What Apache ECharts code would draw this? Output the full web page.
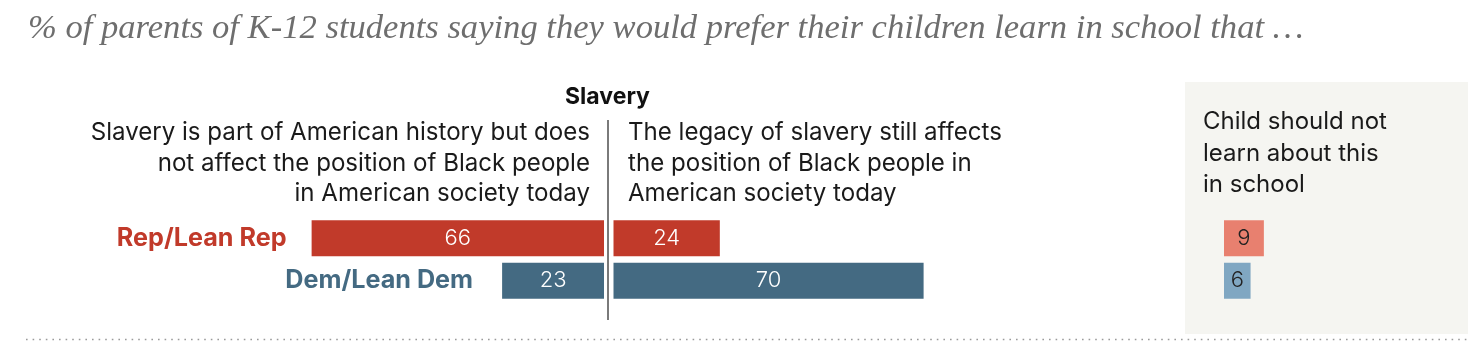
<!DOCTYPE html>
<html>
<head>
<meta charset="utf-8">
<script src="https://cdn.jsdelivr.net/npm/echarts@6/dist/echarts.min.js"></script>
<style>
html,body{margin:0;padding:0;background:#fff;}
#c{width:1468px;height:342px;}
</style>
</head>
<body>
<div id="c"></div>
<script>
// ---- data ----
const groups = ['Rep/Lean Rep', 'Dem/Lean Dem'];
const notAffect = [66, 23];
const stillAffects = [24, 70];
const shouldNotLearn = [9, 6];
const titleText = '% of parents of K-12 students saying they would prefer their children learn in school that \u2026';
const topicLabel = 'Slavery';
const leftHeader = ['Slavery is part of American history but does', 'not affect the position of Black people', 'in American society today'];
const rightHeader = ['The legacy of slavery still affects', 'the position of Black people in', 'American society today'];
const panelHeader = ['Child should not', 'learn about this', 'in school'];

// ---- styles ----
const dark = ['#c13a2a', '#446a82'];
const light = ['#e8806f', '#80a7c2'];
const SANS = 'Inter, "Open Sans", sans-serif';
const SERIF = '"Liberation Serif", "DejaVu Serif", Georgia, serif';

const cv = document.createElement('canvas').getContext('2d');
function fit(text, style, weight, family, target) {
  cv.font = style + ' ' + weight + ' 100px ' + family;
  return Math.round(1000 * target / cv.measureText(text).width) / 10;
}
const titleSize = fit(titleText, 'italic', 'normal', SERIF, 1278);
const headSize = fit(leftHeader[0], 'normal', 'normal', SANS, 500);
const panelSize = fit(panelHeader[0], 'normal', 'normal', SANS, 184);
const catSize = fit(groups[0], 'normal', 'bold', SANS, 170);
const topicSize = fit(topicLabel, 'normal', 'bold', SANS, 85);

const PX = 4.43; // pixels per percentage point
const gTop = 217, gH = 85;
const leftMax = 70, panelMax = 50;
const leftEdge = 604, rightEdge = 613.5, panelEdge = 1224;

function grid(left, max) {
  return { left: left, top: gTop, width: max * PX, height: gH, containLabel: false };
}
const grids = [grid(leftEdge - leftMax * PX, leftMax), grid(rightEdge, leftMax), grid(panelEdge, panelMax)];
const xAxes = [
  { gridIndex: 0, type: 'value', min: 0, max: leftMax, inverse: true, show: false },
  { gridIndex: 1, type: 'value', min: 0, max: leftMax, show: false },
  { gridIndex: 2, type: 'value', min: 0, max: panelMax, show: false }
];
const yAxes = [0, 1, 2].map(i => ({ gridIndex: i, type: 'category', data: groups, inverse: true, show: false }));

function items(vals, colors) {
  return vals.map((v, i) => ({ value: v, name: groups[i], itemStyle: { color: colors[i] } }));
}
const valueLabel = (col, size) => ({ show: true, position: 'inside', color: col, fontFamily: SANS, fontWeight: 300, fontSize: size, formatter: '{c}' });

const series = [
  { type: 'bar', xAxisIndex: 0, yAxisIndex: 0, barWidth: 36, data: items(notAffect, dark), label: valueLabel('#fff', 22), silent: true },
  { type: 'bar', xAxisIndex: 0, yAxisIndex: 0, barWidth: 36, barGap: '-100%', silent: true, z: 1,
    data: notAffect.map((v, i) => ({ value: v, name: groups[i], itemStyle: { color: 'rgba(0,0,0,0)' },
      label: { show: true, position: 'left', distance: i === 0 ? 25 : 29, color: dark[i], fontWeight: 'bold', fontFamily: SANS, fontSize: catSize, formatter: '{b}' } })) },
  { type: 'bar', xAxisIndex: 1, yAxisIndex: 1, barWidth: 36, data: items(stillAffects, dark), label: valueLabel('#fff', 22), silent: true },
  { type: 'bar', xAxisIndex: 2, yAxisIndex: 2, barWidth: 36, data: items(shouldNotLearn, light), label: valueLabel('#222', 22), silent: true }
];

const graphics = [
  { type: 'rect', shape: { x: 1185, y: 82, width: 283, height: 252 }, style: { fill: '#f5f5f1' }, z: -10 },
  { type: 'text', x: 28, y: 29, style: { text: titleText, font: 'italic normal ' + titleSize + 'px ' + SERIF, fill: '#6e6e6e', verticalAlign: 'middle' } },
  { type: 'text', x: 607.5, y: 97, style: { text: topicLabel, font: 'bold ' + topicSize + 'px ' + SANS, fill: '#111', align: 'center', verticalAlign: 'middle' } },
  { type: 'line', shape: { x1: 608, y1: 120, x2: 608, y2: 320 }, style: { stroke: '#7a7a7a', lineWidth: 2 } },
  { type: 'line', shape: { x1: 26, y1: 339.5, x2: 1468, y2: 339.5 }, style: { stroke: '#9a9a9a', lineWidth: 1.6, lineDash: [1.6, 5] } }
];
const lineY = [133, 163.5, 194];
leftHeader.forEach((t, i) => graphics.push({ type: 'text', x: 590, y: lineY[i], style: { text: t, font: headSize + 'px ' + SANS, fill: '#1a1a1a', align: 'right', verticalAlign: 'middle' } }));
rightHeader.forEach((t, i) => graphics.push({ type: 'text', x: 628, y: lineY[i], style: { text: t, font: headSize + 'px ' + SANS, fill: '#1a1a1a', align: 'left', verticalAlign: 'middle' } }));
const panelY = [122, 154, 185];
panelHeader.forEach((t, i) => graphics.push({ type: 'text', x: 1203, y: panelY[i], style: { text: t, font: panelSize + 'px ' + SANS, fill: '#1a1a1a', align: 'left', verticalAlign: 'middle' } }));

const chart = echarts.init(document.getElementById('c'), null, { renderer: 'canvas' });
chart.setOption({
  animation: false,
  backgroundColor: '#fff',
  grid: grids,
  xAxis: xAxes,
  yAxis: yAxes,
  series: series,
  graphic: graphics
});
</script>
</body>
</html>
